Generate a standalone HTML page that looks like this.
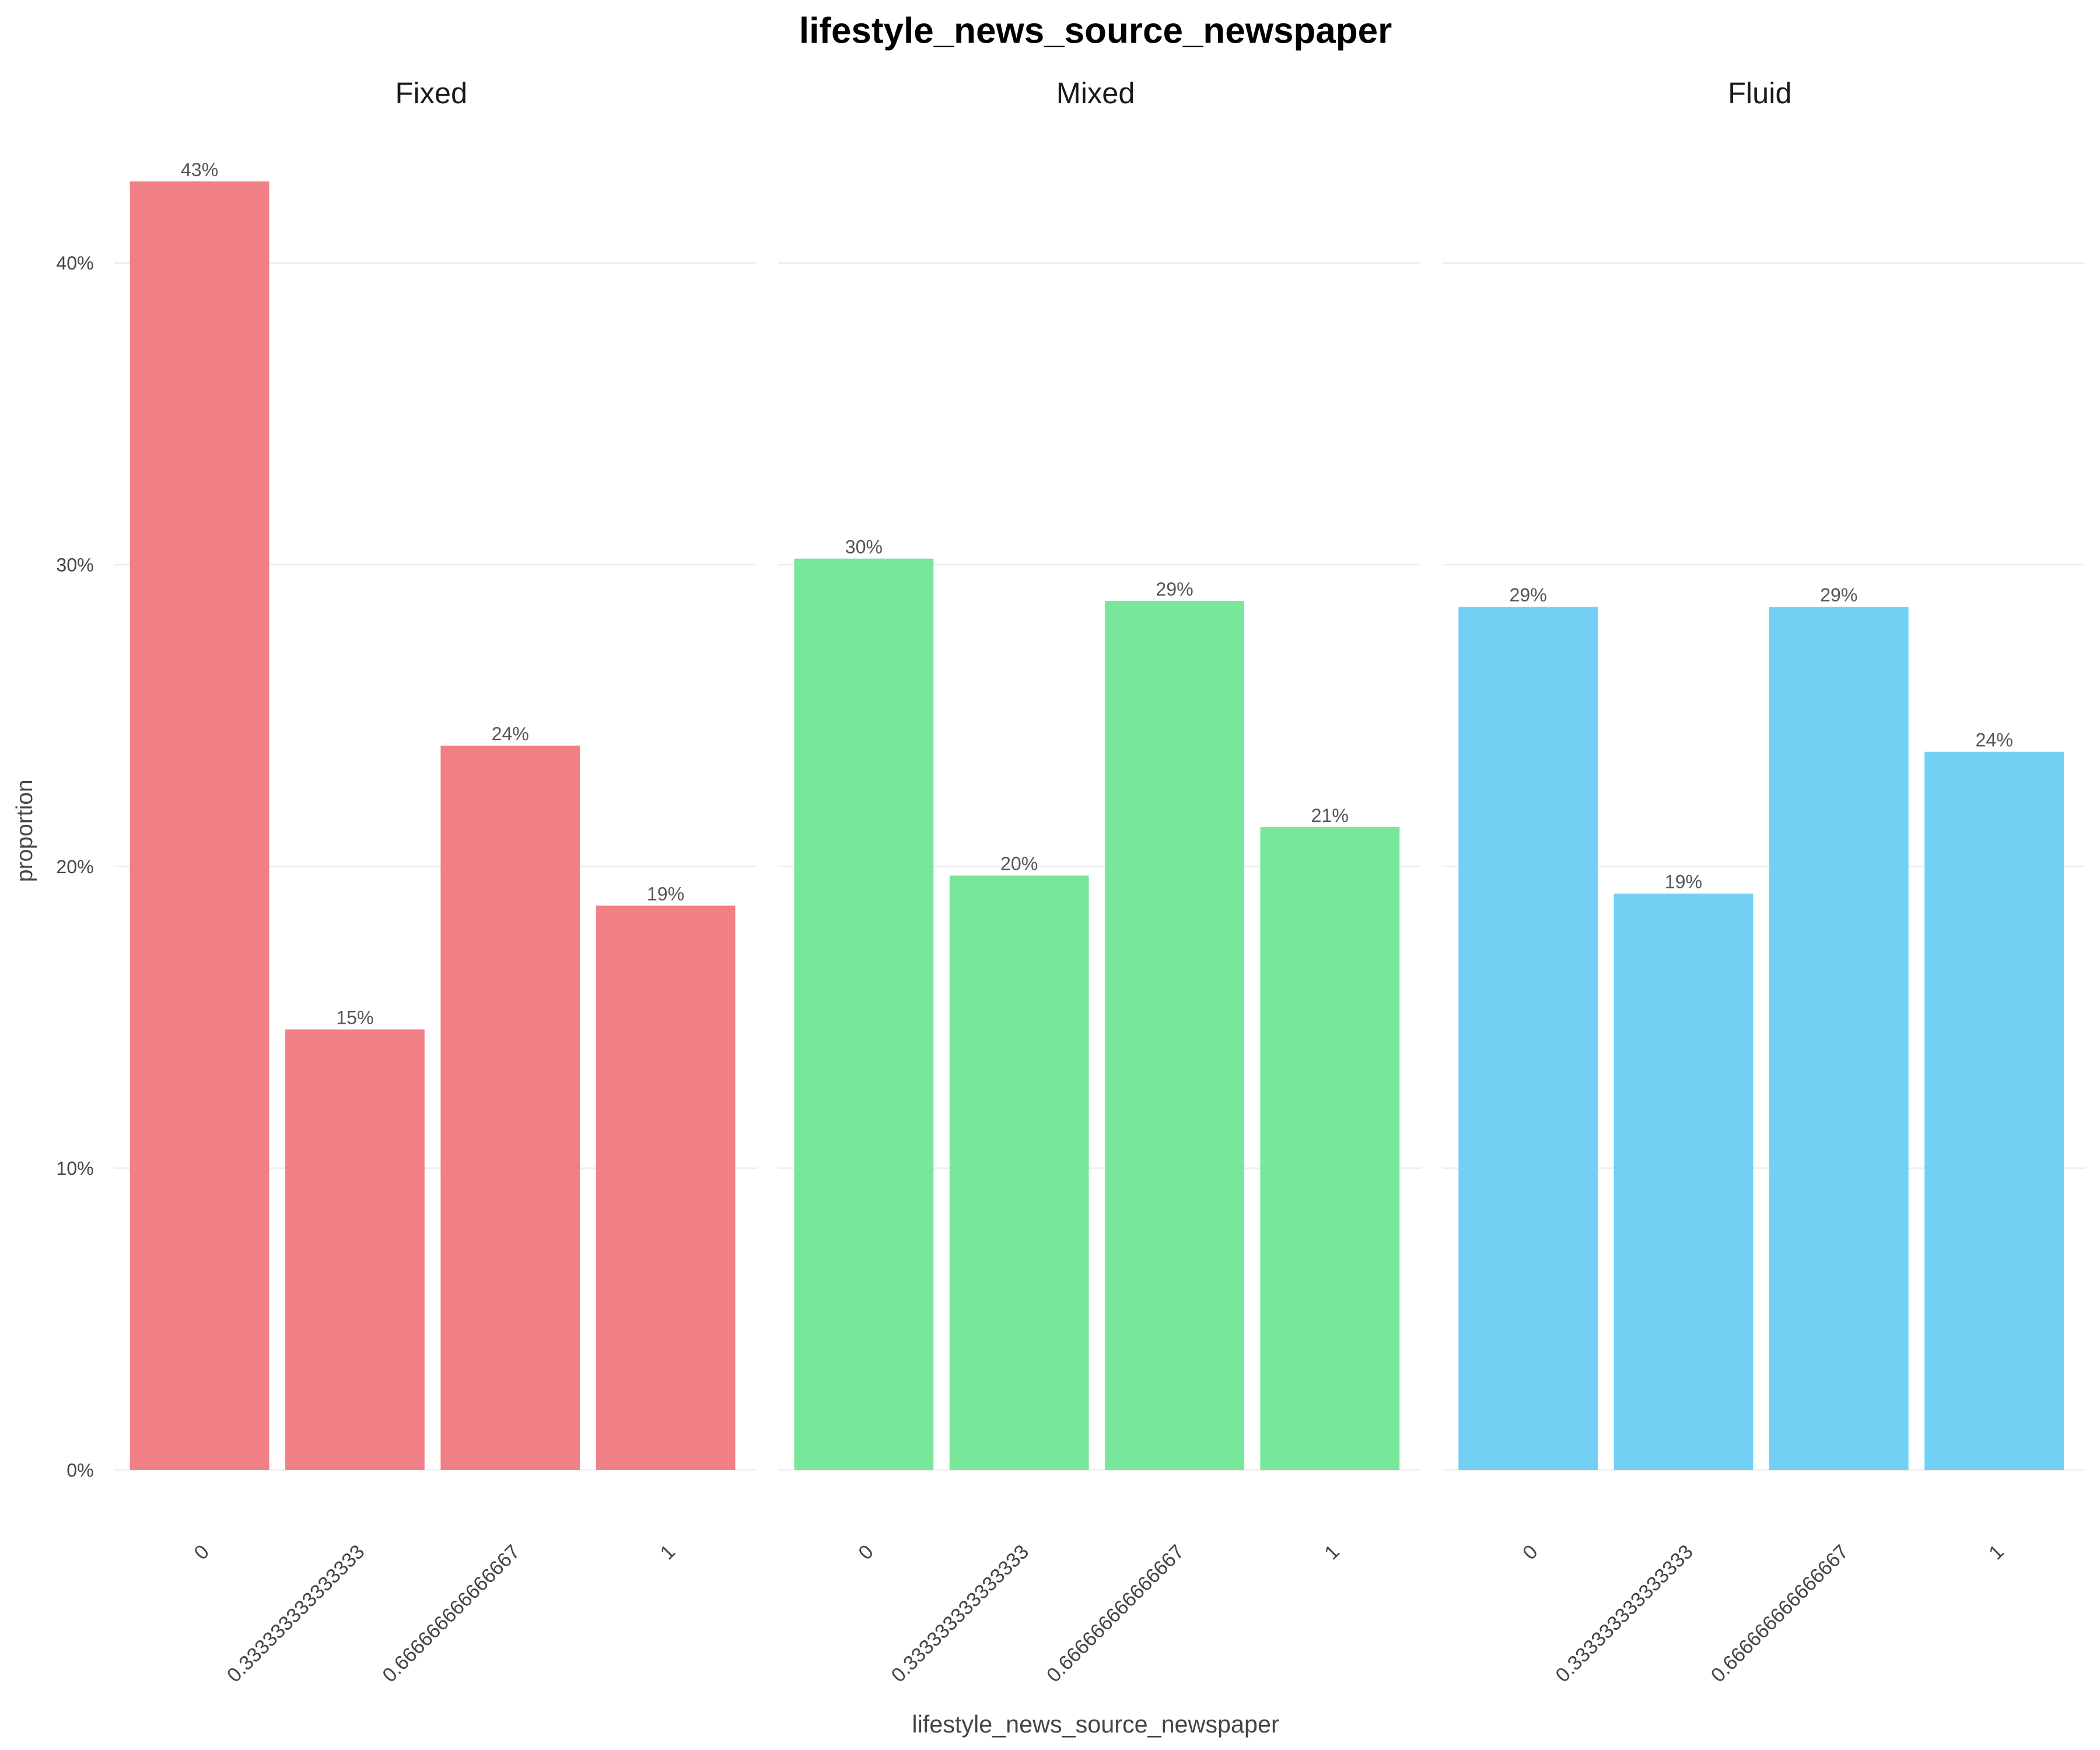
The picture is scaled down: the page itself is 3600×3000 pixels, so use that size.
<!DOCTYPE html>
<html><head><meta charset="utf-8"><style>
html,body{margin:0;padding:0;background:#fff}
svg{display:block;font-family:"Liberation Sans",sans-serif}
</style></head><body>
<svg id="chart" width="3600" height="3000" viewBox="0 0 1568 1306" preserveAspectRatio="none" xmlns="http://www.w3.org/2000/svg">
<text x="818" y="32" text-anchor="middle" font-size="27" font-weight="bold" fill="#000">lifestyle_news_source_newspaper</text>
<text transform="translate(24,620) rotate(-90)" text-anchor="middle" font-size="17" fill="#444">proportion</text>
<text x="818" y="1293" text-anchor="middle" font-size="18" fill="#444">lifestyle_news_source_newspaper</text>
<g id="plot"></g>
</svg>
<script>
const panels = ["Fixed","Mixed","Fluid"];
const categories = ["0","0.333333333333333","0.666666666666667","1"];
const fixedValues = [0.427, 0.146, 0.240, 0.187];
const mixedValues = [0.302, 0.197, 0.288, 0.213];
const fluidValues = [0.286, 0.191, 0.286, 0.238];
const yTicks = [0, 0.1, 0.2, 0.3, 0.4];
const yTickLabels = ["0%","10%","20%","30%","40%"];

const seriesValues = [fixedValues, mixedValues, fluidValues];
const colors = ["#F18086","#77E89A","#72D0F5"];
const NS = "http://www.w3.org/2000/svg";
const g = document.getElementById("plot");
const y0 = 1097, pxPerUnit = 2252;
function yScale(v){ return y0 - v*pxPerUnit; }
const panelLeft = [85, 581, 1077], panelW = 480;
function xBandStart(p, i){ return panelLeft[p] + 12 + i*116; }
const barW = 104;
function mk(tag, attrs){ const e=document.createElementNS(NS,tag); for(const k in attrs) e.setAttribute(k, attrs[k]); return e; }

yTicks.forEach((t,j)=>{
  const lab = mk("text",{x:70,y:yScale(t)+5,"text-anchor":"end","font-size":"14",fill:"#444"});
  lab.textContent = yTickLabels[j];
  
  
  g.appendChild(lab);
});

panels.forEach((pn,p)=>{
  yTicks.forEach(t=>{
    const l = mk("line",{x1:panelLeft[p],x2:panelLeft[p]+panelW,y1:yScale(t),y2:yScale(t),stroke:"#efefef","stroke-width":"1.2"});
    
    
    g.appendChild(l);
  });
  const st = mk("text",{x:panelLeft[p]+panelW/2-3,y:77,"text-anchor":"middle","font-size":"22",fill:"#1a1a1a"});
  st.textContent = pn;
  
  
  g.appendChild(st);
  seriesValues[p].forEach((v,i)=>{
    const x = xBandStart(p,i);
    const r = mk("rect",{x:x,y:yScale(v),width:barW,height:y0-yScale(v),fill:colors[p]});
    
    
    g.appendChild(r);
    const lt = mk("text",{x:x+barW/2,y:yScale(v)-4,"text-anchor":"middle","font-size":"14",fill:"#555"});
    lt.textContent = Math.round(v*100)+"%";
    
    
    g.appendChild(lt);
    const cx = x + barW/2 + 8;
    const xl = mk("text",{transform:`translate(${cx},1159) rotate(-45)`,"text-anchor":"end","font-size":"15",fill:"#444"});
    xl.textContent = categories[i];
    
    
    g.appendChild(xl);
  });
});
</script>
</body></html>
